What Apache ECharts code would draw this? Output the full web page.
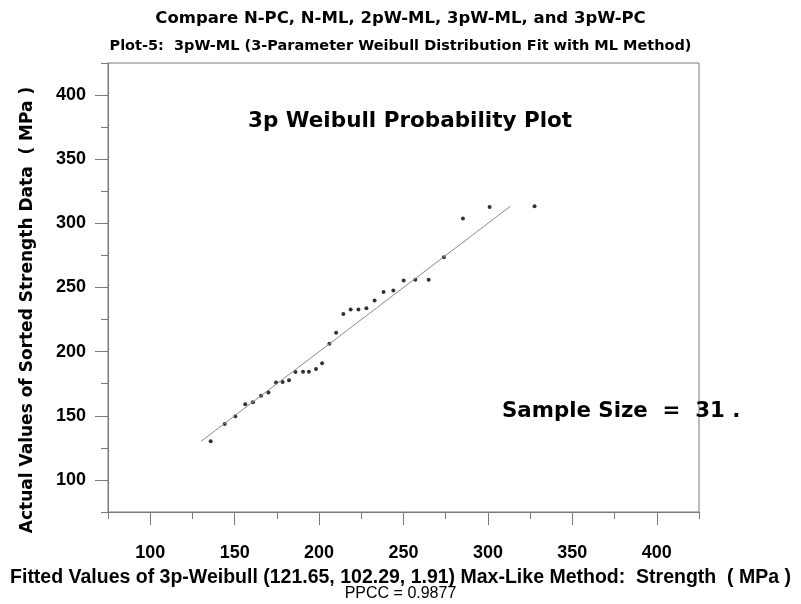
<!DOCTYPE html>
<html>
<head>
<meta charset="utf-8">
<script src="https://cdn.jsdelivr.net/npm/echarts@6/dist/echarts.min.js"></script>
<style>
  html, body { margin: 0; padding: 0; background: #ffffff; }
  #chart { width: 801px; height: 604px; }
</style>
</head>
<body>
<div id="chart"></div>
<script>
// Fitted 3-parameter Weibull quantiles (MPa), one per sorted observation
const fittedValues = [
  135.8, 144.1, 150.4, 156.3, 160.8, 165.6, 170.0, 174.5, 178.4, 182.2,
  186.0, 190.5, 194.0, 198.2, 201.8, 206.1, 210.1, 214.4, 218.7, 223.3,
  228.0, 232.9, 238.2, 244.0, 250.1, 257.0, 264.9, 273.9, 285.2, 301.0,
  327.6
];
// Sorted strength observations (MPa)
const sortedStrength = [
  130.1, 143.6, 149.6, 158.9, 160.5, 165.7, 168.1, 175.9, 176.3, 177.7,
  184.1, 184.4, 184.4, 186.5, 190.9, 206.1, 214.7, 229.3, 232.8, 232.8,
  233.8, 239.8, 246.5, 247.6, 255.4, 256.1, 256.1, 273.5, 303.7, 312.7,
  313.3
];
// Reference line y = x spanning the observed range
const fitLineRange = [130.1, 313.3];
// Axis range and labelled tick values (both axes)
const axisRange = [75, 425];
const majorTickValues = [100, 150, 200, 250, 300, 350, 400];
const minorTickStep = 25;

const FONT = "'Liberation Sans', Arial, Helvetica, sans-serif";
const WIDE = "'DejaVu Sans', 'Liberation Sans', sans-serif";
const FRAME = '#7a7a7a';

const points = fittedValues.map((x, i) => [x, sortedStrength[i]]);
const fitLine = fitLineRange.map(v => [v, v]);

function minorAxis(kind) {
  return {
    type: 'value',
    position: kind === 'x' ? 'bottom' : 'left',
    min: axisRange[0], max: axisRange[1], interval: minorTickStep,
    axisLine: { show: true, lineStyle: { color: FRAME, width: 1 } },
    axisTick: { show: true, inside: false, length: 7, lineStyle: { color: FRAME, width: 1 } },
    axisLabel: { show: false },
    splitLine: { show: false }
  };
}
function majorAxis(kind) {
  return {
    type: 'value',
    position: kind === 'x' ? 'bottom' : 'left',
    min: axisRange[0], max: axisRange[1],
    axisLine: { show: false },
    axisTick: { show: true, inside: false, length: 13, customValues: majorTickValues,
                lineStyle: { color: FRAME, width: 1 } },
    axisLabel: {
      show: true, customValues: majorTickValues,
      margin: kind === 'x' ? 32 : 22,
      color: '#000', fontFamily: FONT, fontWeight: 'bold', fontSize: 18
    },
    splitLine: { show: false }
  };
}

const chart = echarts.init(document.getElementById('chart'), null, { renderer: 'canvas' });
chart.setOption({
  backgroundColor: '#ffffff',
  animation: false,
  grid: {
    left: 108, top: 63, width: 591, height: 449,
    show: true, borderColor: FRAME, borderWidth: 1, backgroundColor: 'transparent',
    containLabel: false
  },
  title: [
    { text: 'Compare N-PC, N-ML, 2pW-ML, 3pW-ML, and 3pW-PC', left: 'center', top: 5,
      textStyle: { fontFamily: WIDE, fontWeight: 'bold', fontSize: 16.5, color: '#000' } },
    { text: 'Plot-5:  3pW-ML (3-Parameter Weibull Distribution Fit with ML Method)', left: 'center', top: 34,
      textStyle: { fontFamily: WIDE, fontWeight: 'bold', fontSize: 14.5, color: '#000' } },
    { text: '3p Weibull Probability Plot', left: 243, top: 105,
      textStyle: { fontFamily: WIDE, fontWeight: 'bold', fontSize: 21.5, color: '#000' } },
    { text: 'Sample Size  =  31 .', left: 497, top: 396,
      textStyle: { fontFamily: WIDE, fontWeight: 'bold', fontSize: 21.3, color: '#000' } },
    { text: 'Fitted Values of 3p-Weibull (121.65, 102.29, 1.91) Max-Like Method:  Strength  ( MPa )',
      left: 'center', top: 563,
      textStyle: { fontFamily: FONT, fontWeight: 'bold', fontSize: 19.5, color: '#000' } },
    { text: 'PPCC = 0.9877', left: 'center', top: 581,
      textStyle: { fontFamily: FONT, fontWeight: 'normal', fontSize: 16, color: '#000' } }
  ],
  graphic: [
    { type: 'text', x: 28, y: 310, rotation: Math.PI / 2,
      style: { text: 'Actual Values of Sorted Strength Data  ( MPa )', fill: '#000',
               font: 'bold 17px ' + WIDE, align: 'center', verticalAlign: 'middle' } }
  ],
  xAxis: [minorAxis('x'), majorAxis('x')],
  yAxis: [minorAxis('y'), majorAxis('y')],
  series: [
    { type: 'line', data: fitLine, xAxisIndex: 0, yAxisIndex: 0,
      showSymbol: false, symbol: 'none',
      lineStyle: { color: '#8a8a8a', width: 1 }, silent: true },
    { type: 'scatter', data: points, xAxisIndex: 0, yAxisIndex: 0,
      symbol: 'circle', symbolSize: 4,
      itemStyle: { color: '#000' }, silent: true }
  ]
});
</script>
</body>
</html>
